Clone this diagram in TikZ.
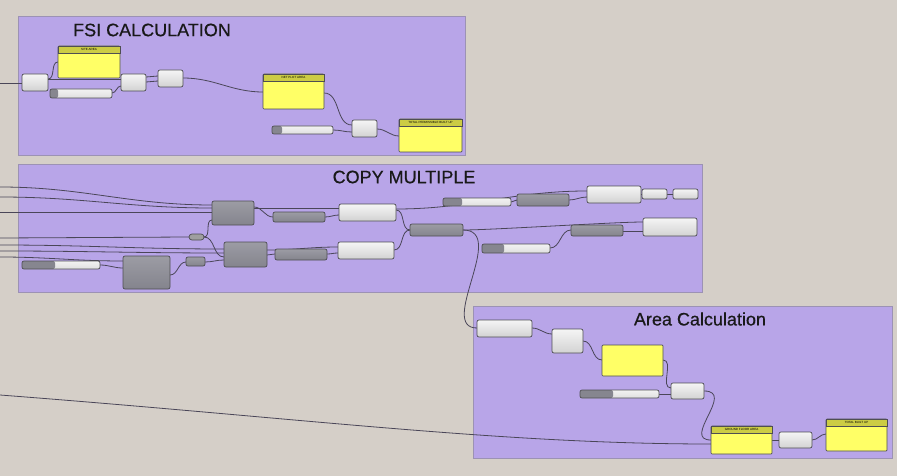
\documentclass[tikz,border=0pt]{standalone}
\usepackage{fontspec}
\setmainfont{Liberation Sans}
\newfontfamily\titlefont[FakeBold=0.6]{Liberation Sans}
\usetikzlibrary{calc}
\pgfdeclarelayer{grp}
\pgfdeclarelayer{wires}
\pgfsetlayers{grp,wires,main}
\definecolor{bgc}{HTML}{D5CFC8}
\definecolor{grpc}{HTML}{B8A5E8}
\definecolor{grpb}{HTML}{9C92B4}
\definecolor{wirec}{HTML}{4A4658}
\definecolor{edgec}{HTML}{4E4E52}
\definecolor{ylw}{HTML}{FFFF66}
\definecolor{ylwh}{HTML}{CCCC44}
\definecolor{sldark}{HTML}{86868F}
\definecolor{dktop}{HTML}{9C9CA4}
\definecolor{dkbot}{HTML}{84848D}
\tikzset{
  comp/.style={draw=edgec,line width=0.7pt,rounded corners=2pt,inner sep=0pt,outer sep=0pt},
  lightc/.style={comp,top color=white!92!gray,bottom color=gray!35},
  darkc/.style={comp,top color=dktop,bottom color=dkbot},
  slider/.style={lightc,top color=white!90!gray,bottom color=gray!25,
    path picture={\fill[sldark] (path picture bounding box.north west) rectangle ([xshift=#1]path picture bounding box.south west);}},
  capsule/.style={comp,fill=gray!75,rounded corners=3pt},
  panel/.style={draw=edgec,line width=0.7pt,fill=ylw,rounded corners=1pt,inner sep=0pt,outer sep=0pt},
  header/.style={draw=edgec,line width=0.6pt,fill=ylwh,inner sep=0pt,outer sep=0pt,anchor=north,minimum height=7pt,font=\fontsize{3}{3}\selectfont},
  wire/.style={draw=wirec,line width=0.8pt},
  group/.style={draw=grpb,line width=1pt,fill=grpc},
  gtitle/.style={font=\titlefont\fontsize{18}{18}\selectfont,text=black!90,inner sep=0pt}
}
\newcommand\gnode[6]{\node[#1,minimum width={#5-#3},minimum height={#6-#4}] (#2) at ({(#3+#5)/2},{(#4+#6)/2}) {};}
\newcommand\gpanel[6]{\gnode{panel}{#1}{#2}{#3}{#4}{#5}\node[header,minimum width={#4-#2}] (#1h) at (#1.north) {#6};}
\begin{document}
\begin{tikzpicture}[x=1pt,y=-1pt]
\useasboundingbox (0,0) rectangle (897,476);
% groups
\begin{pgfonlayer}{grp}
\fill[bgc] (0,0) rectangle (897,476);
\node[group,minimum width=447,minimum height=139,inner sep=0pt] (gfsi) at (241.5,86.5) {};
\node[group,minimum width=684,minimum height=127,inner sep=0pt] (gcm) at (360,228.5) {};
\node[group,minimum width=419,minimum height=152,inner sep=0pt] (gac) at (682.5,382) {};
\end{pgfonlayer}
\node[gtitle] (tfsi) at (152,30) {FSI CALCULATION};
\node[gtitle] (tcm) at (404,177) {COPY MULTIPLE};
\node[gtitle] (tac) at (700,319) {Area Calculation};
% FSI
\gnode{lightc}{A}{22}{74}{48}{91}
\gpanel{site}{58}{46}{120}{78}{SITE AREA}
\gnode{slider=8pt}{sa}{50}{89}{112}{98}
\gnode{lightc}{B}{121}{74}{146}{91}
\gnode{lightc}{C}{158}{70}{183}{87}
\gpanel{net}{263}{74}{324}{109}{NET PLOT AREA}
\gnode{slider=10pt}{sb}{272}{126}{333}{134}
\gnode{lightc}{D}{352}{120}{377}{137}
\gpanel{tpb}{399}{119}{462}{152}{TOTAL PERMISSIBLE BUILT UP}
% COPY MULTIPLE
\gnode{darkc}{E}{212}{201}{254}{225}
\gnode{darkc}{F}{273}{212}{325}{222}
\gnode{lightc}{G}{339}{204}{396}{221}
\gnode{capsule}{H}{189}{234}{204}{240}
\gnode{darkc}{I}{224}{242}{267}{267}
\gnode{darkc}{J}{275}{249}{327}{260}
\gnode{lightc}{K}{338}{242}{394}{259}
\gnode{slider=33pt}{L}{22}{261}{100}{269}
\gnode{darkc}{M}{123}{256}{170}{289}
\gnode{darkc}{N}{186}{257}{205}{266}
\gnode{slider=19pt}{O}{443}{198}{511}{206}
\gnode{darkc}{P}{517}{194}{569}{206}
\gnode{lightc}{Q}{587}{186}{641}{203}
\gnode{lightc}{R}{642}{189}{667}{199}
\gnode{lightc}{S}{673}{189}{698}{199}
\gnode{darkc}{T}{410}{224}{463}{236}
\gnode{slider=22pt}{U}{482}{244}{550}{253}
\gnode{darkc}{V}{571}{225}{623}{236}
\gnode{lightc}{W}{643}{218}{697}{236}
% Area calculation
\gnode{lightc}{X}{477}{320}{532}{337}
\gnode{lightc}{Y}{552}{329}{583}{353}
\gnode{panel}{Z}{602}{345}{663}{376}
\gnode{slider=33pt}{AA}{580}{390}{659}{398}
\gnode{lightc}{AB}{671}{383}{704}{399}
\gpanel{gfa}{711}{426}{772}{454}{GROUND FLOOR AREA}
\gnode{lightc}{AC}{779}{432}{812}{448}
\gpanel{tbu}{826}{419}{887}{451}{TOTAL BUILT UP}
% free ends
\coordinate (i1) at (0,83);
\coordinate (i2) at (0,187);
\coordinate (i3) at (0,197);
\coordinate (i4) at (0,212);
\coordinate (i5) at (0,238);
\coordinate (i6) at (0,245);
\coordinate (i7) at (0,251);
\coordinate (i8) at (0,257);
\coordinate (i9) at (0,395);
\begin{pgfonlayer}{wires}
% FSI wires
\draw[wire] (i1) -- (A.west |- 0,83);
\draw[wire] (A.east |- 0,79) to[out=0,in=180] (site.west |- 0,62);
\draw[wire] (A.east |- 0,79) -- (B.west |- 0,79);
\draw[wire] (sa.east |- 0,93) to[out=0,in=180] (B.west |- 0,86);
\draw[wire] (B.east |- 0,77) -- (C.west |- 0,76);
\draw[wire] (B.east |- 0,82) -- (C.west |- 0,81);
\draw[wire] (C.east |- 0,78) to[out=0,in=180] (net.west |- 0,92);
\draw[wire] (net.east |- 0,93) to[out=0,in=180] (D.west |- 0,125);
\draw[wire] (sb.east |- 0,130) to[out=0,in=180] (D.west |- 0,132);
\draw[wire] (D.east |- 0,129) to[out=0,in=180] (tpb.west |- 0,136);
% COPY MULTIPLE wires
\draw[wire] (i2) to[out=0,in=180] (E.west |- 0,205);
\draw[wire] (i3) to[out=0,in=180] (E.west |- 0,208);
\draw[wire] (i4) -- (E.west |- 0,212);
\draw[wire] (i5) -- (H.west |- 0,237);
\draw[wire] (i6) to[out=0,in=180] (I.west |- 0,249);
\draw[wire] (i7) to[out=0,in=180] (I.west |- 0,253);
\draw[wire] (i8) to[out=0,in=180] (M.west |- 0,261);
\draw[wire] (L.east |- 0,265) to[out=0,in=180] (M.west |- 0,268);
\draw[wire] (M.east |- 0,275) to[out=0,in=180] (N.west |- 0,262);
\draw[wire] (N.east |- 0,262) to[out=0,in=180] (I.west |- 0,260);
\draw[wire] (H.east |- 0,237) to[out=0,in=180] (E.west |- 0,220);
\draw[wire] (H.east |- 0,237) to[out=0,in=180] (I.west |- 0,257);
\draw[wire] (E.east |- 0,207) to[out=0,in=180] (F.west |- 0,217);
\draw[wire] (E.east |- 0,208) -- (G.west |- 0,208);
\draw[wire] (F.east |- 0,217) to[out=0,in=180] (G.west |- 0,215);
\draw[wire] (I.east |- 0,255) to[out=0,in=180] (J.west |- 0,254);
\draw[wire] (I.east |- 0,250) to[out=0,in=180] (K.west |- 0,247);
\draw[wire] (J.east |- 0,254) to[out=0,in=180] (K.west |- 0,253);
\draw[wire] (G.east |- 0,210) to[out=0,in=180] (T.west |- 0,230);
\draw[wire] (K.east |- 0,250) to[out=0,in=180] (T.west |- 0,230);
\draw[wire] (G.east |- 0,209) to[out=0,in=180] (Q.west |- 0,191);
\draw[wire] (O.east |- 0,202) to[out=0,in=180] (P.west |- 0,200);
\draw[wire] (P.east |- 0,200) to[out=0,in=180] (Q.west |- 0,197);
\draw[wire] (Q.east |- 0,194) -- (R.west |- 0,194);
\draw[wire] (R.east |- 0,194) -- (S.west |- 0,194);
\draw[wire] (T.east |- 0,230) to[out=0,in=180,looseness=0.4] (W.west |- 0,222);
\draw[wire] (U.east |- 0,248) to[out=0,in=180] (V.west |- 0,230);
\draw[wire] (V.east |- 0,231) -- (W.west |- 0,231);
\draw[wire] (T.east |- 0,230) .. controls +(45,0) and +(-40,0) .. (X.west |- 0,328);
% Area wires
\draw[wire] (X.east |- 0,328) to[out=0,in=180] (Y.west |- 0,334);
\draw[wire] (Y.east |- 0,341) to[out=0,in=180] (Z.west |- 0,360);
\draw[wire] (Z.east |- 0,360) to[out=0,in=180] (AB.west |- 0,388);
\draw[wire] (AA.east |- 0,394) -- (AB.west |- 0,394);
\draw[wire] (AB.east |- 0,391) .. controls +(32,0) and +(-30,0) .. (gfa.west |- 0,440);
\draw[wire] (i9) .. controls (300,418) and (500,444) .. (gfa.west |- 0,444);
\draw[wire] (gfa.east |- 0,440) -- (AC.west |- 0,440);
\draw[wire] (AC.east |- 0,440) to[out=0,in=180] (tbu.west |- 0,434);
\end{pgfonlayer}
\end{tikzpicture}
\end{document}
